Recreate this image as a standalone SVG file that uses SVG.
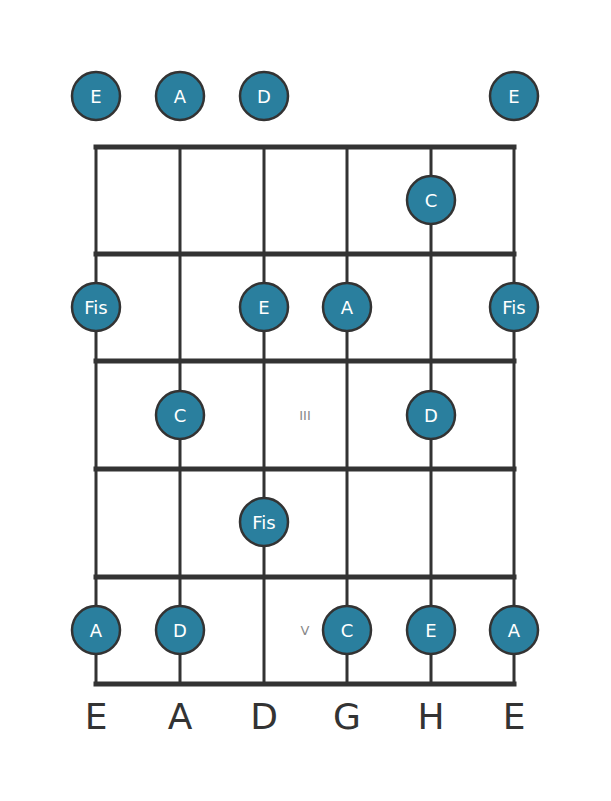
<svg xmlns="http://www.w3.org/2000/svg" width="611" height="801" viewBox="0 0 611 801">
<style>
.fret{stroke:#333;stroke-width:5;stroke-linecap:square}
.str{stroke:#333;stroke-width:3}
.n circle{fill:#2a7f9e;stroke:#333;stroke-width:2.5}
.n text{fill:#fff;font-family:"DejaVu Sans",sans-serif;font-size:18px;text-anchor:middle;dominant-baseline:central}
.lbl{fill:#333;font-family:"DejaVu Sans",sans-serif;font-size:36px;text-anchor:middle}
.pos{fill:#888;font-family:"DejaVu Sans",sans-serif;font-size:13px;text-anchor:middle;dominant-baseline:central}
</style>
<rect width="611" height="801" fill="#fff"/>
<g id="connectors">
<line class="str" x1="96" y1="146" x2="96" y2="684"/>
<line class="str" x1="180" y1="146" x2="180" y2="684"/>
<line class="str" x1="264" y1="146" x2="264" y2="684"/>
<line class="str" x1="347" y1="146" x2="347" y2="684"/>
<line class="str" x1="431" y1="146" x2="431" y2="684"/>
<line class="str" x1="514" y1="146" x2="514" y2="684"/>
<line class="fret" x1="96" y1="147" x2="514" y2="147"/>
<line class="fret" x1="96" y1="254" x2="514" y2="254"/>
<line class="fret" x1="96" y1="361" x2="514" y2="361"/>
<line class="fret" x1="96" y1="469" x2="514" y2="469"/>
<line class="fret" x1="96" y1="577" x2="514" y2="577"/>
<line class="fret" x1="96" y1="684" x2="514" y2="684"/>
</g>
<text class="pos" x="305" y="415">III</text>
<text class="pos" x="305" y="630">V</text>
<g id="open-E1" class="n"><circle cx="96" cy="96" r="24"/><text x="96" y="96">E</text></g>
<g id="open-A" class="n"><circle cx="180" cy="96" r="24"/><text x="180" y="96">A</text></g>
<g id="open-D" class="n"><circle cx="264" cy="96" r="24"/><text x="264" y="96">D</text></g>
<g id="open-E2" class="n"><circle cx="514" cy="96" r="24"/><text x="514" y="96">E</text></g>
<g id="f1-H" class="n"><circle cx="431" cy="200" r="24"/><text x="431" y="200">C</text></g>
<g id="f2-E1" class="n"><circle cx="96" cy="307" r="24"/><text x="96" y="307">Fis</text></g>
<g id="f2-D" class="n"><circle cx="264" cy="307" r="24"/><text x="264" y="307">E</text></g>
<g id="f2-G" class="n"><circle cx="347" cy="307" r="24"/><text x="347" y="307">A</text></g>
<g id="f2-E2" class="n"><circle cx="514" cy="307" r="24"/><text x="514" y="307">Fis</text></g>
<g id="f3-A" class="n"><circle cx="180" cy="415" r="24"/><text x="180" y="415">C</text></g>
<g id="f3-H" class="n"><circle cx="431" cy="415" r="24"/><text x="431" y="415">D</text></g>
<g id="f4-D" class="n"><circle cx="264" cy="522" r="24"/><text x="264" y="522">Fis</text></g>
<g id="f5-E1" class="n"><circle cx="96" cy="630" r="24"/><text x="96" y="630">A</text></g>
<g id="f5-A" class="n"><circle cx="180" cy="630" r="24"/><text x="180" y="630">D</text></g>
<g id="f5-G" class="n"><circle cx="347" cy="630" r="24"/><text x="347" y="630">C</text></g>
<g id="f5-H" class="n"><circle cx="431" cy="630" r="24"/><text x="431" y="630">E</text></g>
<g id="f5-E2" class="n"><circle cx="514" cy="630" r="24"/><text x="514" y="630">A</text></g>
<g id="labels">
<text class="lbl" x="96" y="729">E</text>
<text class="lbl" x="180" y="729">A</text>
<text class="lbl" x="264" y="729">D</text>
<text class="lbl" x="347" y="729">G</text>
<text class="lbl" x="431" y="729">H</text>
<text class="lbl" x="514" y="729">E</text>
</g>
</svg>
